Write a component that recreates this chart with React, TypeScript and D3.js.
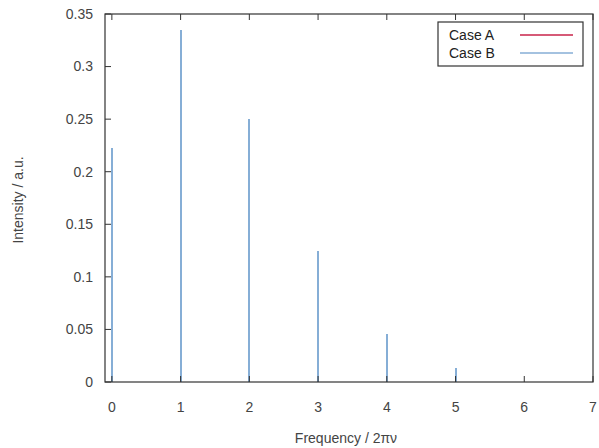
import React, { useRef, useEffect } from 'react';
import * as d3 from 'd3';

// Harmonic frequencies and intensities
const frequencies = [0, 1, 2, 3, 4, 5];
const caseA = [0.223, 0.335, 0.25, 0.125, 0.046, 0.013];
const caseB = [0.223, 0.335, 0.25, 0.125, 0.046, 0.013];
const xTicks = [0, 1, 2, 3, 4, 5, 6, 7];
const yTicks = [0, 0.05, 0.1, 0.15, 0.2, 0.25, 0.3, 0.35];
const seriesNames = ['Case A', 'Case B'];
const seriesColors = ['#c8234a', '#86aed6'];

const W = 599;
const H = 448;

const App = () => {
  const ref = useRef<SVGSVGElement | null>(null);

  useEffect(() => {
    if (!ref.current) return;
    const svg = d3.select(ref.current);
    svg.selectAll('*').remove();

    const margin = { top: 14, right: 6, bottom: 66, left: 105 };
    const width = W - margin.left - margin.right;
    const height = H - margin.top - margin.bottom;
    const font = '"Liberation Sans", Arial, sans-serif';

    const x = d3.scaleLinear().domain([-0.1, 7]).range([0, width]);
    const y = d3.scaleLinear().domain([0, 0.35]).range([height, 0]);

    const g = svg.append('g').attr('transform', `translate(${margin.left},${margin.top})`);

    // Impulses, case A hidden underneath case B
    [caseA, caseB].forEach((vals, si) => {
      g.selectAll(`.imp${si}`)
        .data(frequencies)
        .enter()
        .append('line')
        .attr('x1', (d) => Math.round(x(d)))
        .attr('x2', (d) => Math.round(x(d)))
        .attr('y1', y(0))
        .attr('y2', (d, i) => y(vals[i]))
        .attr('stroke', seriesColors[si])
        .attr('stroke-width', 2)
        .attr('shape-rendering', 'crispEdges');
    });

    // Frame
    g.append('rect')
      .attr('width', width)
      .attr('height', height)
      .attr('fill', 'none')
      .attr('stroke', '#333')
      .attr('stroke-width', 1.2);

    const tick = 6;
    // x ticks (bottom + mirrored top)
    xTicks.forEach((t) => {
      g.append('line').attr('x1', x(t)).attr('x2', x(t)).attr('y1', height).attr('y2', height - tick).attr('stroke', '#333');
      g.append('line').attr('x1', x(t)).attr('x2', x(t)).attr('y1', 0).attr('y2', tick).attr('stroke', '#333');
      g.append('text')
        .attr('x', x(t))
        .attr('y', height + 30)
        .attr('text-anchor', 'middle')
        .attr('font-family', font)
        .attr('font-size', 14)
        .attr('fill', '#444')
        .text(t);
    });

    // y ticks
    yTicks.forEach((t) => {
      g.append('line').attr('x1', 0).attr('x2', tick).attr('y1', y(t)).attr('y2', y(t)).attr('stroke', '#333');
      g.append('text')
        .attr('x', -12)
        .attr('y', y(t))
        .attr('dy', '0.35em')
        .attr('text-anchor', 'end')
        .attr('font-family', font)
        .attr('font-size', 14)
        .attr('fill', '#444')
        .text(d3.format('~g')(t));
    });

    // Axis titles
    svg.append('text')
      .attr('x', margin.left + width / 2 - 3)
      .attr('y', H - 5)
      .attr('text-anchor', 'middle')
      .attr('font-family', font)
      .attr('font-size', 14)
      .attr('fill', '#444')
      .text('Frequency / 2πν');

    svg.append('text')
      .attr('transform', `translate(23,${margin.top + height / 2 + 2}) rotate(-90)`)
      .attr('text-anchor', 'middle')
      .attr('font-family', font)
      .attr('font-size', 14)
      .attr('fill', '#444')
      .text('Intensity / a.u.');

    // Legend
    const lg = svg.append('g').attr('transform', 'translate(438,22)');
    lg.append('rect')
      .attr('width', 145)
      .attr('height', 44)
      .attr('fill', '#fff')
      .attr('stroke', '#333')
      .attr('stroke-width', 1.2);
    seriesNames.forEach((name, i) => {
      lg.append('text')
        .attr('x', 11)
        .attr('y', 13 + i * 18)
        .attr('dy', '0.35em')
        .attr('font-family', font)
        .attr('font-size', 14)
        .attr('fill', '#222')
        .text(name);
      lg.append('line')
        .attr('x1', 82)
        .attr('x2', 135)
        .attr('y1', 13 + i * 18)
        .attr('y2', 13 + i * 18)
        .attr('stroke', seriesColors[i])
        .attr('stroke-width', 1.5);
    });
  }, []);

  return (
    <svg
      ref={ref}
      width={W}
      height={H}
      style={{ position: 'absolute', left: 0, top: 0, background: '#fff' }}
    />
  );
};

export default App;
